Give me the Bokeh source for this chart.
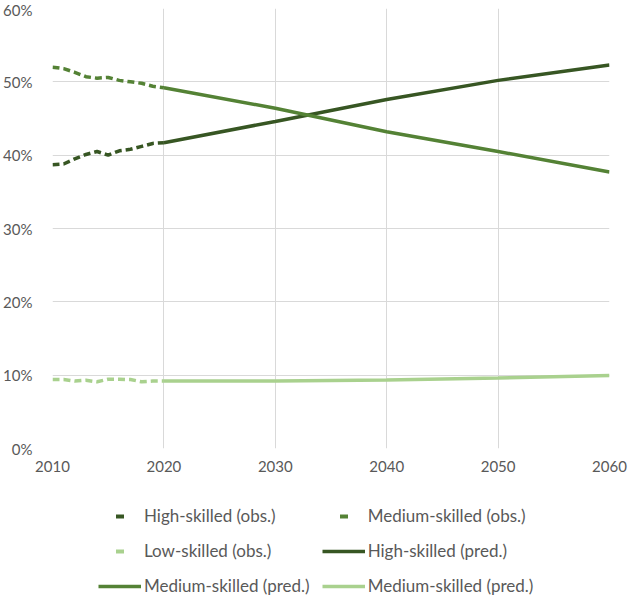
from bokeh.plotting import figure
from bokeh.layouts import column
from bokeh.models import Legend, LegendItem, FixedTicker, Range1d, PrintfTickFormatter
from bokeh.embed import file_html
from bokeh.resources import INLINE

# Observed shares by skill level (percent of employment), 2010-2020
obs_years = list(range(2010, 2021))
high_obs = [38.7, 38.8, 39.5, 40.1, 40.5, 40.0, 40.6, 40.8, 41.2, 41.6, 41.7]
medium_obs = [52.0, 51.8, 51.3, 50.7, 50.5, 50.6, 50.2, 50.0, 49.8, 49.4, 49.2]
low_obs = [9.4, 9.4, 9.2, 9.3, 9.1, 9.45, 9.45, 9.4, 9.1, 9.2, 9.2]

# Projected shares, 2020-2060
pred_years = [2020, 2030, 2040, 2050, 2060]
high_pred = [41.7, 44.6, 47.6, 50.2, 52.3]
medium_pred = [49.2, 46.4, 43.2, 40.5, 37.7]
low_pred = [9.2, 9.2, 9.35, 9.6, 9.95]

x_ticks = [2010, 2020, 2030, 2040, 2050, 2060]
y_ticks = [0, 10, 20, 30, 40, 50, 60]

labels = [
    "High-skilled (obs.)",
    "Medium-skilled (obs.)",
    "Low-skilled (obs.)",
    "High-skilled (pred.)",
    "Medium-skilled (pred.)",
    "Medium-skilled (pred.)",
]

DARK = "#375623"
MID = "#548235"
LIGHT = "#A9D18E"
FONT = "Lato"
TEXT = "#595959"
GRID = "#D9D9D9"
LW = 3.5
DASH = "7 4"

# ---- main chart ----
p = figure(
    width=630, height=475,
    output_backend="svg", toolbar_location=None,
    x_range=Range1d(2010, 2060), y_range=Range1d(0, 60),
    min_border_left=50, min_border_right=21, min_border_top=8, min_border_bottom=27,
)
p.outline_line_color = None
p.background_fill_color = "white"
p.border_fill_color = "white"

for ax in (p.xaxis[0], p.yaxis[0]):
    ax.axis_line_color = None
    ax.major_tick_line_color = None
    ax.minor_tick_line_color = None
    ax.major_label_text_font = FONT
    ax.major_label_text_font_size = "15px"
    ax.major_label_text_color = TEXT

p.xaxis[0].ticker = FixedTicker(ticks=x_ticks)
p.xaxis[0].major_label_standoff = 6
p.yaxis[0].ticker = FixedTicker(ticks=y_ticks)
p.yaxis[0].formatter = PrintfTickFormatter(format="%d%%")
p.yaxis[0].major_label_standoff = 14

p.xgrid[0].grid_line_color = GRID
p.ygrid[0].grid_line_color = GRID
p.xgrid[0].grid_line_width = 1
p.ygrid[0].grid_line_width = 1

# observed series, dashed
p.line(obs_years, high_obs, line_color=DARK, line_width=LW, line_dash=DASH)
p.line(obs_years, medium_obs, line_color=MID, line_width=LW, line_dash=DASH)
p.line(obs_years, low_obs, line_color=LIGHT, line_width=LW, line_dash=DASH)

# projected series, solid
p.line(pred_years, high_pred, line_color=DARK, line_width=LW)
p.line(pred_years, medium_pred, line_color=MID, line_width=LW)
p.line(pred_years, low_pred, line_color=LIGHT, line_width=LW)

# ---- legend strip below the chart ----
lg = figure(
    width=630, height=120,
    output_backend="svg", toolbar_location=None,
    x_range=Range1d(0, 1), y_range=Range1d(0, 1),
    x_axis_type=None, y_axis_type=None,
    min_border_left=0, min_border_right=0, min_border_top=0, min_border_bottom=0,
)
lg.outline_line_color = None
lg.background_fill_color = "white"
lg.border_fill_color = "white"

nan = float("nan")
# swatches only: these carry no points of their own
sw_high = lg.scatter([nan], [nan], marker="dash", size=8, line_color=DARK, line_width=4)
sw_med = lg.scatter([nan], [nan], marker="dash", size=8, line_color=MID, line_width=4)
sw_low = lg.scatter([nan], [nan], marker="dash", size=8, line_color=LIGHT, line_width=4)
ln_high = lg.line([nan], [nan], line_color=DARK, line_width=LW)
ln_med = lg.line([nan], [nan], line_color=MID, line_width=LW)
ln_low = lg.line([nan], [nan], line_color=LIGHT, line_width=LW)

legend = Legend(
    items=[
        LegendItem(label=labels[0], renderers=[sw_high]),
        LegendItem(label=labels[1], renderers=[sw_med]),
        LegendItem(label=labels[2], renderers=[sw_low]),
        LegendItem(label=labels[3], renderers=[ln_high]),
        LegendItem(label=labels[4], renderers=[ln_med]),
        LegendItem(label=labels[5], renderers=[ln_low]),
    ],
    orientation="horizontal",
    ncols=2,
    location=(46, -2),
    glyph_width=43,
    glyph_height=20,
    label_height=23,
    label_standoff=3,
    spacing=12,
    padding=0,
    margin=0,
    label_text_font=FONT,
    label_text_font_size="17px",
    label_text_color=TEXT,
    border_line_color=None,
    background_fill_alpha=0,
)
lg.add_layout(legend, "center")

layout = column(p, lg, spacing=0)
open("out.html", "w").write(file_html(layout, INLINE))
